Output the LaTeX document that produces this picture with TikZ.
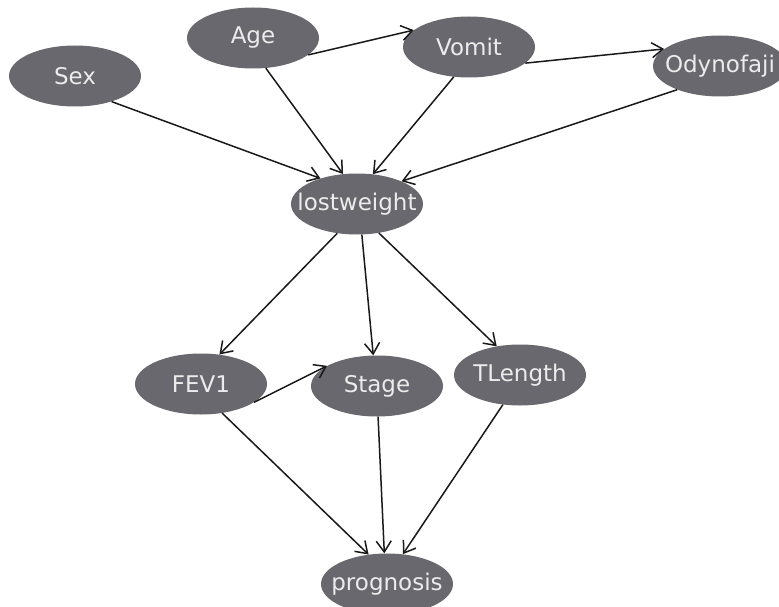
\documentclass[tikz,border=0pt]{standalone}
\usepackage{fontspec}
\newfontfamily\varfont{DejaVu Sans}
\usetikzlibrary{positioning,shapes.geometric,arrows.meta}
\definecolor{nodegray}{RGB}{104,104,110}
\definecolor{labelwhite}{RGB}{236,236,236}
\tikzset{
  var/.style={ellipse, fill=nodegray, text=labelwhite, inner sep=0pt, inner xsep=-25pt,
    minimum width=132pt, minimum height=61pt, font=\varfont\fontsize{23}{23}\selectfont},
  link/.style={-{Straight Barb[length=11pt,width=15pt]}, line width=1.5pt, black!90}
}
\begin{document}
\begin{tikzpicture}[on grid]
    \useasboundingbox (0,0) rectangle (779pt,-607pt);
    \clip (0,0) rectangle (779pt,-607pt);
    \node [var] (lw) at (357pt,-204pt) {lostweight};
    \node [var, above left=128pt and 282pt of lw] (sex) {Sex};
    \node [var, above left=166pt and 104pt of lw] (age) {Age};
    \node [var, above right=157pt and 112pt of lw] (vomit) {Vomit};
    \node [var, minimum width=134pt, above right=138pt and 363pt of lw] (odyn) {Odynofaji};
    \draw [link] (sex.-35) -- (lw.145);
    \draw [link] (age.-67) -- (lw.115);
    \draw [link] (age.-17) -- (vomit.163);
    \draw [link] (vomit.-117) -- (lw.62);
    \draw [link] (vomit.-16) -- (odyn.163);
    \draw [link] (odyn.-151) -- (lw.27);

    \node [var, below left=180pt and 156pt of lw] (fev) {FEV1};
    \node [var, below right=182pt and 20pt of lw] (stage) {Stage};
    \node [var, below right=171pt and 163pt of lw] (tlen) {TLength};
    \draw [link] (lw.-124) -- (fev.58);
    \draw [link] (lw.-81) -- (stage.97);
    \draw [link] (lw.-53) -- (tlen.129);
    \draw [link] (fev.-19) -- (stage.158);

    \node [var, below right=198pt and 10pt of stage] (prog) {prognosis};
    \draw [link] (fev.-54) -- (prog.122);
    \draw [link] (stage.-88) -- (prog.95);
    \draw [link] (tlen.-120) -- (prog.62);
\end{tikzpicture}
\end{document}
